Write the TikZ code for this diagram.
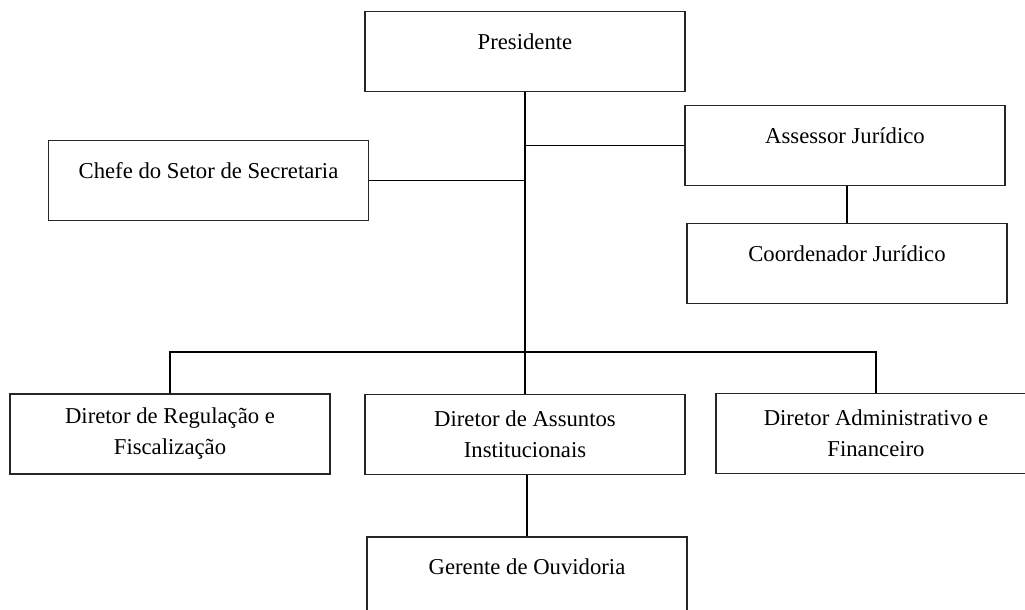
\documentclass[tikz,border=0pt]{standalone}
\usepackage{fontspec}
\setmainfont{Liberation Serif}
\usetikzlibrary{positioning,calc}
\newcommand{\lifttext}[1]{\raisebox{5pt}[\height][\depth]{#1}}

\begin{document}
\begin{tikzpicture}[x=0.5pt,y=-0.5pt,
    orgbox/.style={draw=black!85, line width=0.7pt, minimum width=160pt, minimum height=40pt,
        inner sep=0pt, align=center, font=\fontsize{11.35}{15.5}\selectfont},
    link/.style={draw=black, line width=0.75pt}]
    \useasboundingbox (0,0) rectangle (1025,610);

    % Top level
    \node[orgbox] (pres) at (525,51.5) {\lifttext{Presidente}};
    \node[orgbox] (assessor) at (845,145.5) {\lifttext{Assessor Jurídico}};
    \node[orgbox] (chefe) at (208.5,180.5) {\lifttext{Chefe do Setor de Secretaria}};
    \node[orgbox] (coord) at (847,263.5) {\lifttext{Coordenador Jurídico}};

    % Directors
    \node[orgbox] (dreg) at (170,434) {Diretor de Regulação e\\Fiscalização};
    \node[orgbox] (dass) at (525,434.5) {Diretor de Assuntos\\Institucionais};
    \node[orgbox] (dadm) at (876,433.5) {Diretor Administrativo e\\Financeiro};

    % Bottom
    \node[orgbox] (ger) at (527,577) {\lifttext{Gerente de Ouvidoria}};

    % Connectors
    \coordinate (bar) at (525,352);
    \draw[link] (pres.south) -- (dass.north);
    \draw[link] (assessor.west) -- (assessor.west -| pres.south);
    \draw[link] (chefe.east) -- (chefe.east -| pres.south);
    \draw[link] (coord.north) -- (coord.north |- assessor.south);
    \draw[link] (dreg.north) |- (bar) -| (dadm.north);
    \draw[link] (ger.north) -- (ger.north |- dass.south);
\end{tikzpicture}
\end{document}
